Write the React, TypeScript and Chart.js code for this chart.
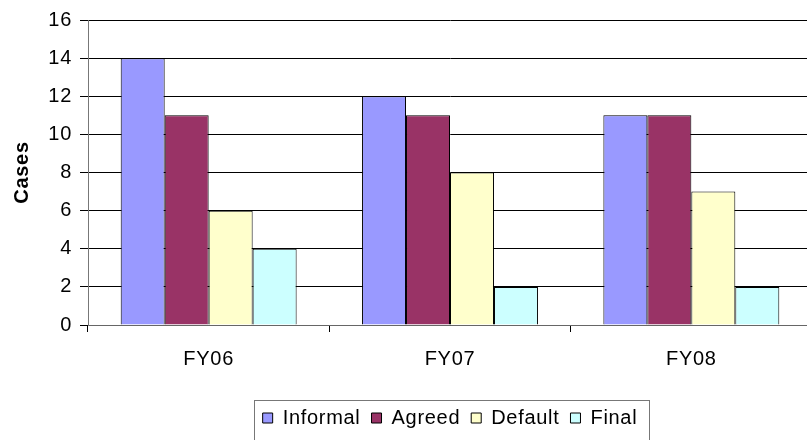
import React, { useEffect, useRef } from "react";
import { Chart, registerables } from "chart.js";

Chart.register(...registerables);

const categories = ["FY06", "FY07", "FY08"];
const seriesNames = ["Informal", "Agreed", "Default", "Final"];
const informal = [14, 12, 11];
const agreed = [11, 11, 11];
const defaultCases = [6, 8, 7];
const finalCases = [4, 2, 2];
const seriesColors = ["#9999FF", "#993366", "#FFFFCC", "#CCFFFF"];
const yTicks = [0, 2, 4, 6, 8, 10, 12, 14, 16];
const yTitle = "Cases";

const FONT = "'Liberation Sans', Arial, sans-serif";
const SPACING = "0.7px";

const spacingPlugin = {
  id: "letterSpacing",
  beforeLayout(chart: any) {
    (chart.ctx as any).letterSpacing = SPACING;
  },
  beforeDraw(chart: any) {
    (chart.ctx as any).letterSpacing = SPACING;
  },
};

const legendBoxPlugin = {
  id: "legendBox",
  afterDraw(chart: any) {
    const lg = chart.legend;
    if (!lg || !lg.legendHitBoxes || !lg.legendHitBoxes.length) return;
    const hb = lg.legendHitBoxes;
    const first = hb[0];
    const last = hb[hb.length - 1];
    const left = first.left - 9;
    const right = last.left + last.width + 11;
    const top = lg.top + 3;
    const ctx = chart.ctx;
    ctx.save();
    ctx.strokeStyle = "#777777";
    ctx.lineWidth = 1;
    ctx.strokeRect(Math.round(left) + 0.5, Math.round(top) + 0.5, Math.round(right - left), 60);
    ctx.restore();
  },
};

export default function App() {
  const ref = useRef<HTMLCanvasElement | null>(null);
  useEffect(() => {
    if (!ref.current) return;
    const values = [informal, agreed, defaultCases, finalCases];
    const chart = new Chart(ref.current, {
      type: "bar",
      data: {
        labels: categories,
        datasets: seriesNames.map((name, i) => ({
          label: name,
          data: values[i],
          backgroundColor: seriesColors[i],
          borderColor: "#000000",
          borderWidth: 1,
          categoryPercentage: 0.729,
          barPercentage: 1,
        })),
      },
      options: {
        responsive: false,
        animation: false,
        devicePixelRatio: 1,
        layout: { padding: { left: 0, right: 88, top: 15, bottom: 2 } },
        plugins: {
          tooltip: { enabled: false },
          legend: {
            position: "bottom",
            fullSize: false,
            labels: {
              boxWidth: 10,
              boxHeight: 10,
              padding: 11,
              color: "#000000",
              font: { family: FONT, size: 20 },
            },
          },
        },
        scales: {
          x: {
            offset: true,
            grid: {
              display: true,
              drawOnChartArea: false,
              tickLength: 7,
              color: "#000000",
              offset: true,
            },
            border: { color: "#666666" },
            ticks: {
              color: "#000000",
              padding: 15,
              font: { family: FONT, size: 20 },
            },
            afterFit(scale: any) {
              scale.height = 72;
            },
          },
          y: {
            min: 0,
            max: 16,
            afterBuildTicks(scale: any) {
              scale.ticks = yTicks.map((v) => ({ value: v }));
            },
            grid: { color: "#000000", tickLength: 8 },
            border: { color: "#777777" },
            ticks: {
              color: "#000000",
              padding: 8,
              font: { family: FONT, size: 20 },
            },
            title: {
              display: true,
              text: yTitle,
              color: "#000000",
              font: { family: FONT, size: 20, weight: "bold" },
              padding: { top: 10, bottom: 0 },
            },
            afterFit(scale: any) {
              scale.width = 88;
            },
          },
        },
      },
      plugins: [spacingPlugin, legendBoxPlugin],
    });
    return () => chart.destroy();
  }, []);
  return (
    <div
      style={{
        position: "absolute",
        left: 0,
        top: 0,
        width: 807,
        height: 440,
        overflow: "hidden",
        background: "#ffffff",
      }}
    >
      <canvas ref={ref} width={900} height={440} style={{ width: 900, height: 440, display: "block" }} />
    </div>
  );
}
